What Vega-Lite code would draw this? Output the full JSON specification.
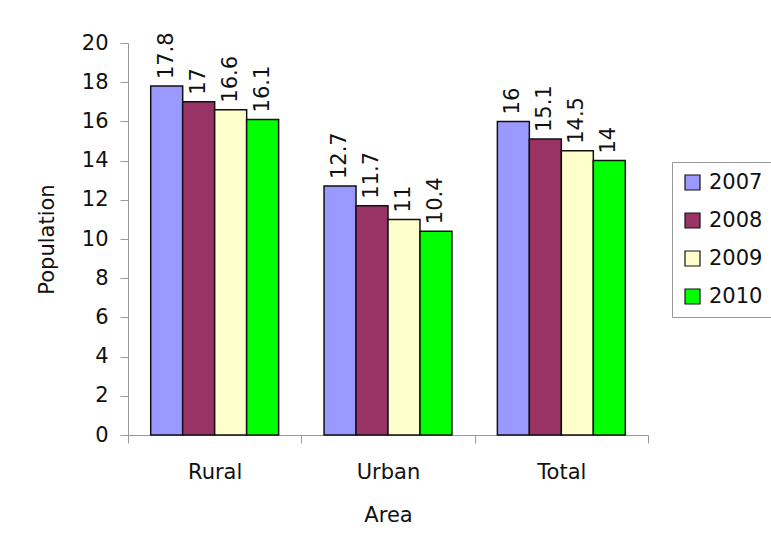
{
  "$schema": "https://vega.github.io/schema/vega-lite/v6.json",
  "width": 520,
  "height": 392,
  "autosize": {"type": "none"},
  "padding": {"left": 128, "top": 43, "right": 123, "bottom": 106},
  "background": "white",
  "config": {
    "view": {"stroke": null},
    "font": "DejaVu Sans",
    "axis": {"labelFont": "DejaVu Sans", "titleFont": "DejaVu Sans", "labelColor": "#111", "titleColor": "#111", "domainColor": "#999", "tickColor": "#999", "grid": false, "titleFontWeight": "normal"}
  },
  "data": {
    "values": [
      {"Area": "Rural", "Year": "2007", "Population": 17.8},
      {"Area": "Rural", "Year": "2008", "Population": 17},
      {"Area": "Rural", "Year": "2009", "Population": 16.6},
      {"Area": "Rural", "Year": "2010", "Population": 16.1},
      {"Area": "Urban", "Year": "2007", "Population": 12.7},
      {"Area": "Urban", "Year": "2008", "Population": 11.7},
      {"Area": "Urban", "Year": "2009", "Population": 11},
      {"Area": "Urban", "Year": "2010", "Population": 10.4},
      {"Area": "Total", "Year": "2007", "Population": 16},
      {"Area": "Total", "Year": "2008", "Population": 15.1},
      {"Area": "Total", "Year": "2009", "Population": 14.5},
      {"Area": "Total", "Year": "2010", "Population": 14}
    ]
  },
  "encoding": {
    "x": {
      "field": "Area", "type": "nominal", "sort": ["Rural", "Urban", "Total"],
      "scale": {"paddingInner": 0, "paddingOuter": 0},
      "axis": {"labelAngle": 0, "tickBand": "extent", "tickSize": 8, "labelPadding": 18, "labelFontSize": 21, "titleFontSize": 21, "titlePadding": 22, "title": "Area"}
    },
    "xOffset": {"field": "Year", "type": "nominal", "scale": {"paddingInner": 0, "paddingOuter": 0.71}},
    "y": {
      "field": "Population", "type": "quantitative",
      "scale": {"domain": [0, 20], "nice": false},
      "axis": {"values": [0, 2, 4, 6, 8, 10, 12, 14, 16, 18, 20], "tickSize": 8, "labelPadding": 12, "labelFontSize": 21, "titleFontSize": 21, "titlePadding": 24, "title": "Population"}
    }
  },
  "layer": [
    {
      "mark": {"type": "bar", "stroke": "#111", "strokeWidth": 1.5},
      "encoding": {
        "color": {
          "field": "Year", "type": "nominal",
          "scale": {"domain": ["2007", "2008", "2009", "2010"], "range": ["#9999FF", "#993366", "#FFFFCC", "#00FF00"]},
          "legend": {
            "orient": "none", "legendX": 544, "legendY": 119, "title": null,
            "symbolType": "square", "symbolSize": 225, "symbolStrokeColor": "#111", "symbolStrokeWidth": 1.2, "symbolOpacity": 1,
            "labelFontSize": 21, "labelFont": "DejaVu Sans", "labelColor": "#111", "labelOffset": 6,
            "rowPadding": 16, "padding": 10, "strokeColor": "#999", "fillColor": "white"
          }
        }
      }
    },
    {
      "mark": {"type": "text", "angle": 270, "align": "left", "baseline": "middle", "dx": 7, "fontSize": 21, "font": "DejaVu Sans", "color": "#111"},
      "encoding": {"text": {"field": "Population", "type": "quantitative"}}
    }
  ]
}
